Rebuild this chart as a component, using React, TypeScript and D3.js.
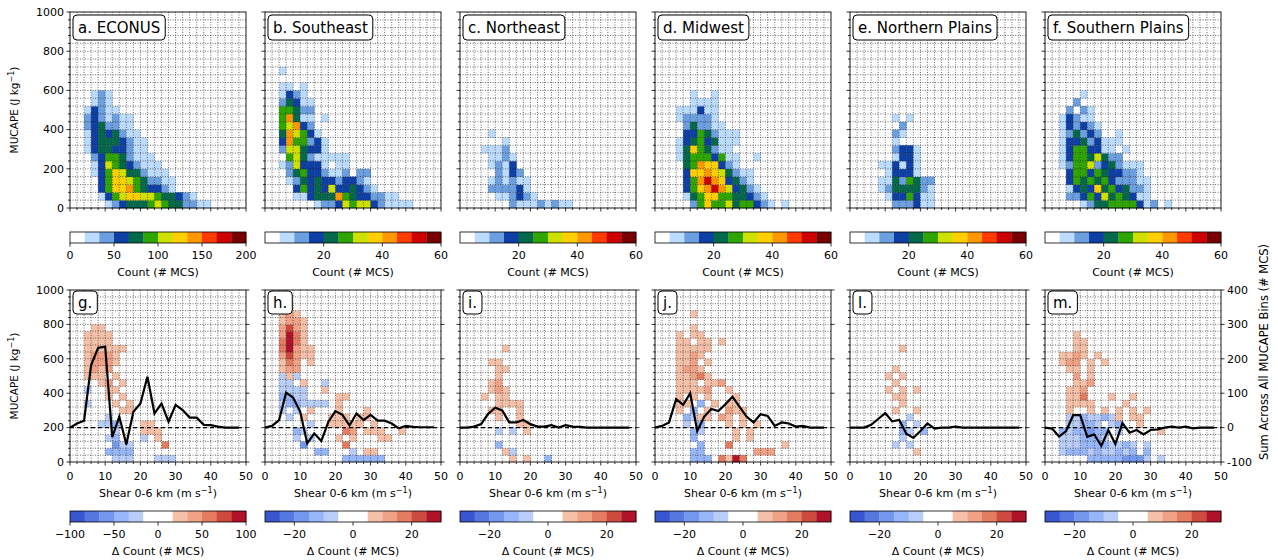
import { useEffect, useRef } from "react";
import * as d3 from "d3";

const W = 1278;
const H = 560;
const FONT = "DejaVu Sans, sans-serif";

// 12-level palettes
const countColors = ["#ffffff", "#bcdcff", "#6b9fe0", "#0e3fa5", "#03694a", "#2ea500", "#cde000", "#ffcf00", "#ff9800", "#ff3b00", "#cf0000", "#780000"];
const diffColors = ["#3a56cf", "#5577e0", "#7497ee", "#97b6fa", "#b8cdf7", "#ffffff", "#ffffff", "#f5c0a8", "#f1a286", "#e47c62", "#cc4a3e", "#b0122a"];

const regionTitles = ["a. ECONUS", "b. Southeast", "c. Northeast", "d. Midwest", "e. Northern Plains", "f. Southern Plains"];
const diffTitles = ["g.", "h.", "i.", "j.", "l.", "m."];
const countMax = [200, 60, 60, 60, 60, 60];
const diffMax = [100, 30, 30, 30, 30, 30];
const countTicks = [[0, 50, 100, 150, 200], [20, 40, 60], [20, 40, 60], [20, 40, 60], [20, 40, 60], [20, 40, 60]];
const diffTicks = [[-100, -50, 0, 50, 100], [-20, 0, 20], [-20, 0, 20], [-20, 0, 20], [-20, 0, 20], [-20, 0, 20]];

// binned counts as colour levels (0-b), rows from MUCAPE 0-40 upward, columns 2 m/s shear bins
const countA = [
  ".....123444565442211",
  "....13567766544321",
  "....35778543321",
  "....35776542211",
  "...13576442111",
  "...1365432111",
  "...235542111",
  "..134433211",
  "..134443211",
  "..13434211",
  "..2342211",
  "..2321211",
  "..13211",
  "...121",
  "...121",
];
const countB = [
  ".......12236566321111",
  "....113444854332211",
  "....353436334321",
  "...124343323321",
  "...245332112.22",
  "..1263331.11",
  "...564211111",
  "..2664331",
  "..3855231",
  "..486531",
  "..56832",
  "..58411.1",
  "..55422",
  "..24311",
  "..1321",
  "..11.1",
  "",
  "..1",
];
const countC = [
  ".......211121211",
  ".....112321",
  "....222231",
  "....121211",
  ".....2132",
  "....1213",
  "....1121",
  "...1112",
  "......1",
  "....1",
];
const countD = [
  ".....257556455321.1",
  "....145775544321",
  "....3578a863421",
  "....358a873421",
  "....3778764211",
  "....45877321",
  "...145553511..1",
  "...14754211",
  "...134534111",
  "....33542111",
  "....242211",
  "...122221",
  "...111311",
  ".....1111",
  ".....1..1",
];
const countE = [
  "......222311",
  ".....1335311",
  "....12444421",
  "....11425422",
  ".....13331",
  "....113131",
  "......1331",
  "......2331",
  "......1",
  "......21",
  ".......2",
  "......1.1",
];
const countF = [
  ".....12445555312.1",
  "...223536454311",
  "...134374534221",
  "...354545322211",
  "...35535433221",
  "..125562342111",
  "..135546422",
  "..13553311.1",
  "..133423111",
  "..124232..1",
  "..132321",
  "..13211",
  "...2.21",
  "....2",
  ".....1",
];

// differences as levels (0-4 blue, 5-6 white, 7-b red)
const diffG = [
  "......444...444",
  ".....3333",
  "......244....9",
  ".....43...4.7",
  "......4...777",
  "....443...77",
  ".....4",
  ".......77",
  "..4...7.7",
  ".....7.7",
  "..4..77",
  "....78.7",
  "..777.7",
  "..7878",
  "..78887",
  "..78887",
  "..777777",
  "..7777",
  "..7777",
  "...77",
];
const diffH = [
  "...........333333",
  ".......33...4.77",
  ".....2.....9",
  "....4.4...7.7...77",
  "....34.....98.777..7",
  "......4..77777.7",
  "...4.7...777.77",
  "..4.4.7...7...7",
  "..4334444.7",
  "..3344....77",
  "..4444..7",
  "..44.7..4",
  "..474",
  "..788",
  "..798.7",
  "..8a877",
  "..9b877",
  "..9b97",
  "..8b97",
  "..8a87",
  "..7887",
  "..787",
  "..77",
];
const diffI = [
  ".......7.7..3",
  "......74",
  ".....3",
  "",
  ".....4.4.7",
  "........77",
  ".....7..7",
  "....77..7",
  ".....7777",
  "...7.77",
  "....787",
  "....78",
  ".....7",
  ".....77",
  "....77",
  "",
  "......7",
];
const diffJ = [
  ".....333.97b9",
  ".....33.......888",
  "......3...9.......7",
  ".....3.....7.7",
  ".....34....7.7",
  "....4.3...7.7.7",
  "....3477.87.7",
  "...7.3.7..877",
  "...77.3.7.77",
  "...7.7.7...7",
  "...77778..7",
  "...777.778",
  "...77897",
  "...7887",
  "...778.7",
  "...7787",
  "...77777",
  "...77.77.7",
  "...7.77",
  ".....7",
  "",
  ".....7",
];
const diffL = [
  "",
  ".........7",
  "......4.4",
  ".......4",
  ".......34.3",
  ".......3.4",
  "........4",
  "......7..7",
  ".......7",
  "......77",
  ".....7.7.7",
  "......7",
  ".....7.7",
  "......7",
  "",
  "",
  ".......7",
];
const diffM = [
  "......333332224.4",
  "..43334344343.3",
  "..44433334434.4",
  "..4443334",
  "..3433233.4.....7",
  "...44334.43..7",
  "...44344347.77",
  "...7..7.7.7.7.7",
  "...7777....7",
  "...779...7..7",
  "...778",
  "....778",
  "....857",
  "...77.7",
  "..78857.7",
  "..7787.7",
  "....77",
  "....77",
  "....7",
];

// column sums (# MCS) at shear 0, 2, ..., 48 m/s
const sumG = [0, 12, 20, 182, 232, 235, -28, 32, -49, 46, 70, 148, 41, 70, 17, 66, 51, 29, 29, 8, 7, 3, 0, 0, 0];
const sumH = [0, 5, 22, 102, 87, 46, -46, -17, -39, 17, 48, 37, 6, 41, 22, 37, 20, 20, 12, -2, 5, 2, 1, 1, 1];
const sumI = [0, 0, 3, 10, 40, 58, 50, 15, 15, 22, 10, 3, 3, 7, 0, 7, 3, 2, 0, 0, 0, 0, 0, 0, 0];
const sumJ = [0, 5, 15, 83, 66, 100, -10, 32, 54, 48, 68, 90, 61, 32, 15, 39, 34, 5, 15, 12, 3, 5, 0, 0, 0];
const sumL = [0, 0, 0, 8, 25, 42, 18, 22, -18, -30, -10, 12, -3, 0, 0, 3, 0, 0, 0, 0, 0, 0, 0, 0, 0];
const sumM = [0, -3, -26, -10, 36, 36, -27, -20, -53, -7, -48, 13, -15, -7, -20, -7, -5, 0, 3, 0, 3, -2, 0, 0, 0];

const countData = [countA, countB, countC, countD, countE, countF];
const diffData = [diffG, diffH, diffI, diffJ, diffL, diffM];
const sumData = [sumG, sumH, sumI, sumJ, sumL, sumM];
const shearPts = d3.range(0, 50, 2);

function decode(rows: string[], lo: number, hi: number) {
  const step = (hi - lo) / 12;
  const cells: { s: number; c: number; v: number }[] = [];
  rows.forEach((row, j) => {
    row.split("").forEach((ch, k) => {
      if (ch === "." || ch === " ") return;
      const lvl = parseInt(ch, 16);
      cells.push({ s: k * 2, c: j * 40, v: lo + (lvl + 0.5) * step });
    });
  });
  return cells;
}

function supLabel(sel: any, pre: string, sup: string, post: string) {
  sel.append("tspan").text(pre);
  sel.append("tspan").attr("dy", -4).attr("font-size", 8).text(sup);
  sel.append("tspan").attr("dy", 4).text(post);
}

export default function App() {
  const ref = useRef<SVGSVGElement>(null);

  useEffect(() => {
    const svg = d3.select(ref.current);
    svg.selectAll("*").remove();
    svg.append("rect").attr("width", W).attr("height", H).attr("fill", "#fff");

    const pw = 176;
    const rowsY = [
      { top: 12, bot: 208, cb: 232 },
      { top: 290, bot: 462, cb: 511 },
    ];

    for (let r = 0; r < 2; r++) {
      const { top, bot, cb } = rowsY[r];
      for (let i = 0; i < 6; i++) {
        const x0 = 70 + i * 195;
        const g = svg.append("g");
        const x = d3.scaleLinear().domain([0, 50]).range([x0, x0 + pw]);
        const y = d3.scaleLinear().domain([0, 1000]).range([bot, top]);
        const lo = r === 0 ? 0 : -diffMax[i];
        const hi = r === 0 ? countMax[i] : diffMax[i];
        const colors = r === 0 ? countColors : diffColors;
        const color = d3.scaleQuantize<string>().domain([lo, hi]).range(colors);
        const cells = decode(r === 0 ? countData[i] : diffData[i], lo, hi);

        g.selectAll(".cell")
          .data(cells)
          .enter()
          .append("rect")
          .attr("x", (d) => x(d.s))
          .attr("y", (d) => y(d.c + 40))
          .attr("width", (d) => x(d.s + 2) - x(d.s) + 0.3)
          .attr("height", (d) => y(d.c) - y(d.c + 40) + 0.3)
          .attr("fill", (d) => color(d.v));

        // dotted grid
        const grid = g.append("g").attr("stroke", "#111").attr("stroke-width", 0.7).attr("stroke-dasharray", "1,1.5").attr("opacity", 0.85);
        d3.range(2, 50, 2).forEach((s) => {
          grid.append("line").attr("x1", x(s)).attr("x2", x(s)).attr("y1", top).attr("y2", bot);
        });
        d3.range(40, 1000, 40).forEach((c) => {
          grid.append("line").attr("x1", x0).attr("x2", x0 + pw).attr("y1", y(c)).attr("y2", y(c));
        });

        // ticks
        const tk = g.append("g").attr("stroke", "#000").attr("stroke-width", 0.8);
        d3.range(0, 51, 2).forEach((s) => {
          const len = s % 10 === 0 ? 3.5 : 2;
          tk.append("line").attr("x1", x(s)).attr("x2", x(s)).attr("y1", bot).attr("y2", bot + len);
        });
        d3.range(0, 1001, 40).forEach((c) => {
          const len = c % 200 === 0 ? 3.5 : 2;
          tk.append("line").attr("x1", x0).attr("x2", x0 - len).attr("y1", y(c)).attr("y2", y(c));
        });

        if (r === 1) {
          d3.range(0, 51, 10).forEach((s) => {
            g.append("text").attr("x", x(s)).attr("y", bot + 18).attr("text-anchor", "middle")
              .attr("font-family", FONT).attr("font-size", 11).text(s);
          });
          const xl = g.append("text").attr("x", x0 + pw / 2).attr("y", bot + 35).attr("text-anchor", "middle")
            .attr("font-family", FONT).attr("font-size", 11);
          supLabel(xl, "Shear 0-6 km (m s", "\u22121", ")");
        }
        if (i === 0) {
          d3.range(0, 1001, 200).forEach((c) => {
            g.append("text").attr("x", x0 - 6).attr("y", y(c)).attr("dy", "0.35em").attr("text-anchor", "end")
              .attr("font-family", FONT).attr("font-size", 11).text(c);
          });
          const cy = (top + bot) / 2;
          const yl = g.append("text").attr("transform", `translate(18,${cy}) rotate(-90)`).attr("text-anchor", "middle")
            .attr("font-family", FONT).attr("font-size", 10.5);
          supLabel(yl, "MUCAPE (J kg", "\u22121", ")");
        }

        if (r === 1) {
          const yr = d3.scaleLinear().domain([-100, 400]).range([bot, top]);
          d3.range(-100, 401, 100).forEach((v) => {
            tk.append("line").attr("x1", x0 + pw).attr("x2", x0 + pw + 3.5).attr("y1", yr(v)).attr("y2", yr(v));
            if (i === 5) {
              g.append("text").attr("x", x0 + pw + 6).attr("y", yr(v)).attr("dy", "0.35em")
                .attr("font-family", FONT).attr("font-size", 11).text(v);
            }
          });
          g.append("line").attr("x1", x0).attr("x2", x0 + pw).attr("y1", yr(0)).attr("y2", yr(0))
            .attr("stroke", "#000").attr("stroke-width", 1.2).attr("stroke-dasharray", "4,3");
          const line = d3.line<number>().x((_, k) => x(shearPts[k])).y((v) => yr(v));
          g.append("path").datum(sumData[i]).attr("fill", "none").attr("stroke", "#000")
            .attr("stroke-width", 2.2).attr("stroke-linejoin", "miter").attr("d", line);
          if (i === 5) {
            g.append("text").attr("transform", `translate(1268,352) rotate(-90)`).attr("text-anchor", "middle")
              .attr("font-family", FONT).attr("font-size", 11.5).text("Sum Across All MUCAPE Bins (# MCS)");
          }
        }

        // frame
        g.append("rect").attr("x", x0).attr("y", top).attr("width", pw).attr("height", bot - top)
          .attr("fill", "none").attr("stroke", "#000").attr("stroke-width", 0.9);

        // panel label box
        const title = r === 0 ? regionTitles[i] : diffTitles[i];
        const by = r === 0 ? top + 3 : top + 1;
        const bh = r === 0 ? 25 : 23;
        const box = g.append("rect").attr("x", x0 + 3).attr("y", by).attr("height", bh).attr("rx", 4)
          .attr("fill", "#fff").attr("stroke", "#000").attr("stroke-width", 1);
        const t = g.append("text").attr("x", x0 + 8).attr("y", by + bh / 2).attr("dy", "0.36em")
          .attr("font-family", FONT).attr("font-size", 15).text(title);
        const tw = (t.node() as SVGTextElement).getComputedTextLength();
        box.attr("width", tw + 10);

        // colorbar
        const cx = d3.scaleLinear().domain([lo, hi]).range([x0, x0 + pw]);
        const step = (hi - lo) / 12;
        const cbg = g.append("g");
        cbg.selectAll("rect").data(colors).enter().append("rect")
          .attr("x", (_, k) => cx(lo + k * step)).attr("y", cb)
          .attr("width", (_, k) => cx(lo + (k + 1) * step) - cx(lo + k * step) + 0.3).attr("height", 11)
          .attr("fill", (d) => d);
        cbg.append("rect").attr("x", x0).attr("y", cb).attr("width", pw).attr("height", 11)
          .attr("fill", "none").attr("stroke", "#000").attr("stroke-width", 0.8);
        const ticks = r === 0 ? countTicks[i] : diffTicks[i];
        ticks.forEach((v) => {
          cbg.append("line").attr("x1", cx(v)).attr("x2", cx(v)).attr("y1", cb + 11).attr("y2", cb + 14.5)
            .attr("stroke", "#000").attr("stroke-width", 0.8);
          cbg.append("text").attr("x", cx(v)).attr("y", cb + 27).attr("text-anchor", "middle")
            .attr("font-family", FONT).attr("font-size", 11).text(v < 0 ? "\u2212" + Math.abs(v) : String(v));
        });
        cbg.append("text").attr("x", x0 + pw / 2).attr("y", cb + 44).attr("text-anchor", "middle")
          .attr("font-family", FONT).attr("font-size", 11).text(r === 0 ? "Count (# MCS)" : "\u0394 Count (# MCS)");
      }
    }
  }, []);

  return <svg ref={ref} width={W} height={H} style={{ position: "absolute", left: 0, top: 0 }} />;
}
